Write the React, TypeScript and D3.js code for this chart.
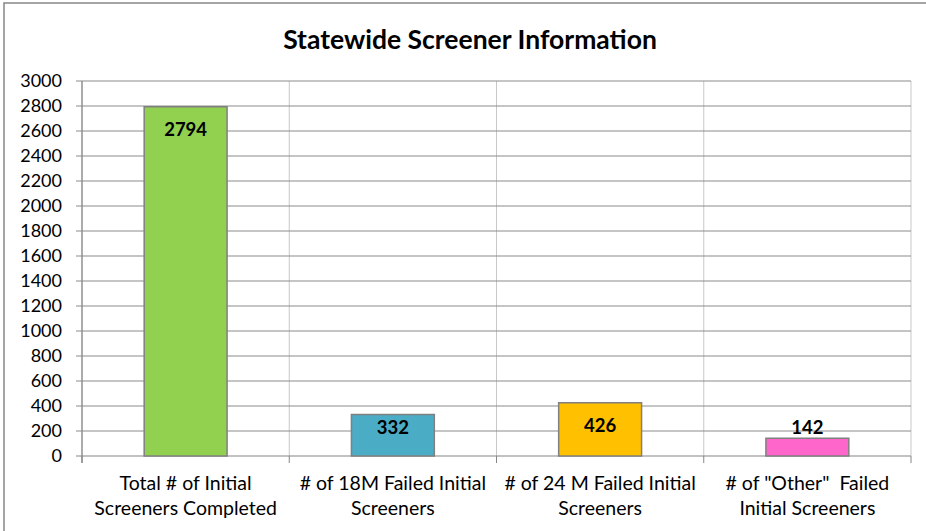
import * as d3 from "d3";

const categories = [
  ["Total # of Initial", "Screeners Completed"],
  ["# of 18M Failed Initial", "Screeners"],
  ["# of 24 M Failed Initial", "Screeners"],
  ['# of "Other"  Failed', "Initial Screeners"],
];
const values = [2794, 332, 426, 142];
const colors = ["#92D050", "#4BACC6", "#FFC000", "#FF66CC"];
const yTicks = d3.range(0, 3001, 200);

export default function App() {
  const width = 926;
  const height = 531;
  const marginLeft = 82;
  const marginRight = 15;
  const marginTop = 81;
  const plotBottom = 456;
  const font = "Lato, 'Open Sans', sans-serif";

  const x = d3.scaleBand<number>()
    .domain(d3.range(values.length))
    .range([marginLeft, width - marginRight])
    .paddingInner(0)
    .paddingOuter(0);
  const y = d3.scaleLinear().domain([0, 3000]).range([plotBottom, marginTop]);

  const bw = x.bandwidth();
  const barW = bw * 0.4;

  return (
    <svg width={width} height={height} style={{ position: "absolute", left: 0, top: 0, background: "#fff" }}>
      {/* outer chart border */}
      <rect x={4} y={3} width={width + 10} height={height + 10} fill="#fff" stroke="#868686" strokeWidth={1.5} />

      <text x={470} y={40} dy="0.35em" textAnchor="middle" fontFamily={font} fontWeight="bold" fontSize={26.5} fill="#000">
        Statewide Screener Information
      </text>

      {/* vertical gridlines at category boundaries */}
      {d3.range(values.length + 1).map(i => {
        const xx = i < values.length ? x(i)! : x(values.length - 1)! + bw;
        return (
          <g key={"v" + i}>
            <line x1={xx} x2={xx} y1={marginTop} y2={plotBottom} stroke="#c8c8c8" />
            <line x1={xx} x2={xx} y1={plotBottom} y2={plotBottom + 7} stroke="#868686" />
          </g>
        );
      })}

      {/* horizontal gridlines and y ticks */}
      {yTicks.map(t => (
        <g key={"h" + t}>
          <line x1={marginLeft - 6} x2={width - marginRight} y1={y(t)} y2={y(t)} stroke={t === 0 ? "#868686" : "#8c8c8c"} strokeWidth={1.2} />
          <text x={62} y={y(t)} dy="0.35em" textAnchor="end" fontFamily={font} fontSize={18} fill="#000">
            {t}
          </text>
        </g>
      ))}
      <line x1={marginLeft} x2={marginLeft} y1={marginTop} y2={plotBottom + 7} stroke="#868686" strokeWidth={1.2} />

      {/* bars */}
      {values.map((v, i) => {
        const cx = x(i)! + bw / 2;
        const top = y(v);
        const h = plotBottom - top;
        const ly = top + Math.min(23, h - 28);
        return (
          <g key={"b" + i}>
            <rect x={cx - barW / 2} y={top} width={barW} height={h} fill={colors[i]} stroke="#808080" strokeWidth={1.5} />
            <text x={cx} y={ly} dy="0.35em" textAnchor="middle" fontFamily={font} fontWeight="bold" fontSize={18.5} fill="#000">
              {v}
            </text>
          </g>
        );
      })}

      {/* category labels */}
      {categories.map((lines, i) => (
        <text key={"c" + i} x={x(i)! + bw / 2} textAnchor="middle" fontFamily={font} fontSize={19.5} fill="#000" style={{ whiteSpace: "pre" }}>
          {lines.map((l, j) => (
            <tspan key={j} x={x(i)! + bw / 2} y={483 + j * 25} dy="0.35em">
              {l}
            </tspan>
          ))}
        </text>
      ))}
    </svg>
  );
}
